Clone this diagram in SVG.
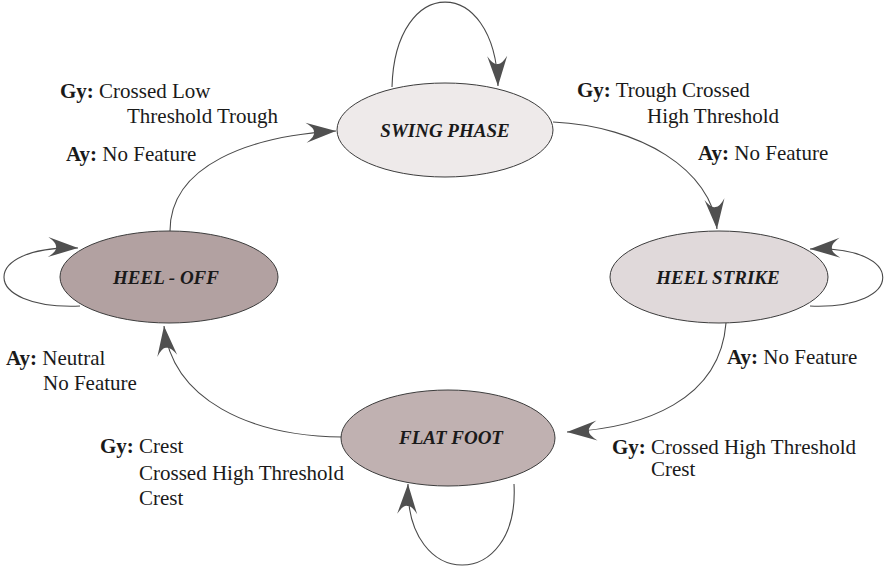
<svg xmlns="http://www.w3.org/2000/svg" width="885" height="569" viewBox="0 0 885 569">
<style>
.node{stroke:#3c3c3c;stroke-width:1}
.nl{font-family:'Liberation Serif','DejaVu Serif',serif;font-size:19px;font-weight:bold;font-style:italic;fill:#1a1a1a;text-anchor:middle}
.lb{font-family:'Liberation Serif','DejaVu Serif',serif;font-size:21px;fill:#1a1a1a}
.b{font-weight:bold}
.c{fill:none;stroke:#4a4a4a;stroke-width:1.1}
</style>
<defs>
<marker id="ah" markerUnits="userSpaceOnUse" markerWidth="32" markerHeight="22" refX="30" refY="10" orient="auto" viewBox="0 0 32 22" overflow="visible">
<path d="M30,10 L0,0 Q9,6 8,10 Q9,14 0,20 Z" fill="#505050"/>
</marker>
</defs>
<g id="connectors">
<path class="c" d="M170,231 C170,165 250,136 336,131" marker-end="url(#ah)"/>
<path class="c" d="M553,122 C640,126 712,170 717,229" marker-end="url(#ah)"/>
<path class="c" d="M726,323 C720,400 645,428 567,432" marker-end="url(#ah)"/>
<path class="c" d="M342,437 C250,436 172,400 164,326" marker-end="url(#ah)"/>
<path class="c" d="M392,87 C395,-26 495,-26 498,86" marker-end="url(#ah)"/>
<path class="c" d="M80,306 C-21,310 -21,245 78,248" marker-end="url(#ah)"/>
<path class="c" d="M810,306 C907,310 907,245 810,249" marker-end="url(#ah)"/>
<path class="c" d="M514,484 C520,592 405,592 408,484" marker-end="url(#ah)"/>
</g>
<g id="swing-phase">
<ellipse class="node" cx="445" cy="130" rx="108" ry="47" fill="#eeeaea"/>
<text class="nl" x="445" y="137" font-family="Liberation Serif, serif">SWING PHASE</text>
</g>
<g id="heel-off">
<ellipse class="node" cx="169" cy="277" rx="109" ry="46" fill="#b2a1a1"/>
<text class="nl" x="166" y="284" font-family="Liberation Serif, serif">HEEL - OFF</text>
</g>
<g id="heel-strike">
<ellipse class="node" cx="719" cy="277" rx="109" ry="46" fill="#e0d9da"/>
<text class="nl" x="718" y="284" font-family="Liberation Serif, serif">HEEL STRIKE</text>
</g>
<g id="flat-foot">
<ellipse class="node" cx="448" cy="438" rx="107" ry="48" fill="#c0b1b1"/>
<text class="nl" x="451" y="444" font-family="Liberation Serif, serif">FLAT FOOT</text>
</g>
<g id="labels" font-family="Liberation Serif, serif">
<text class="lb" x="60" y="98"><tspan class="b">Gy:</tspan> Crossed Low</text>
<text class="lb" x="127" y="123">Threshold Trough</text>
<text class="lb" x="66" y="161"><tspan class="b">Ay:</tspan> No Feature</text>
<text class="lb" x="577" y="97"><tspan class="b">Gy:</tspan> Trough Crossed</text>
<text class="lb" x="647" y="123">High Threshold</text>
<text class="lb" x="698" y="160"><tspan class="b">Ay:</tspan> No Feature</text>
<text class="lb" x="6" y="365"><tspan class="b">Ay:</tspan> Neutral</text>
<text class="lb" x="43" y="390">No Feature</text>
<text class="lb" x="100" y="453"><tspan class="b">Gy:</tspan> Crest</text>
<text class="lb" x="139" y="480">Crossed High Threshold</text>
<text class="lb" x="139" y="505">Crest</text>
<text class="lb" x="727" y="364"><tspan class="b">Ay:</tspan> No Feature</text>
<text class="lb" x="612" y="454"><tspan class="b">Gy:</tspan> Crossed High Threshold</text>
<text class="lb" x="651" y="476">Crest</text>
</g>
</svg>
